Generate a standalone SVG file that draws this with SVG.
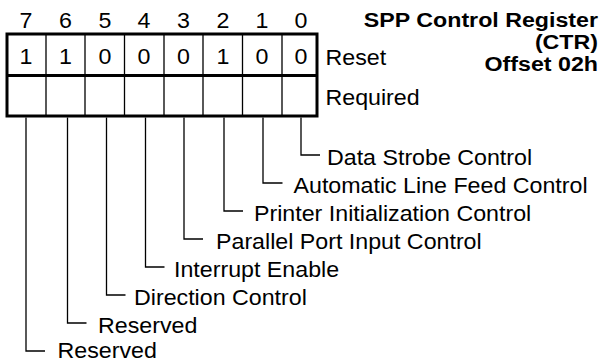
<svg xmlns="http://www.w3.org/2000/svg" width="603" height="363" viewBox="0 0 603 363">
<style>
text{font-family:"Liberation Sans",Arial,sans-serif;font-size:21.5px;fill:#000}
.c{text-anchor:middle}
.t{font-weight:bold;text-anchor:end;font-size:19.5px}
.thick{fill:none;stroke:#000;stroke-width:3}
.thin{stroke:#000;stroke-width:1.3;fill:none}
</style>
<rect width="603" height="363" fill="#fff"/>
<g id="register">
<g class="c">
<text transform="translate(26 27.5) scale(1.08 1)">7</text>
<text transform="translate(65.5 27.5) scale(1.08 1)">6</text>
<text transform="translate(105 27.5) scale(1.08 1)">5</text>
<text transform="translate(144 27.5) scale(1.08 1)">4</text>
<text transform="translate(183.5 27.5) scale(1.08 1)">3</text>
<text transform="translate(223 27.5) scale(1.08 1)">2</text>
<text transform="translate(262 27.5) scale(1.08 1)">1</text>
<text transform="translate(301 27.5) scale(1.08 1)">0</text>
<text transform="translate(26 63.5) scale(1.08 1)">1</text>
<text transform="translate(65.5 63.5) scale(1.08 1)">1</text>
<text transform="translate(105 63.5) scale(1.08 1)">0</text>
<text transform="translate(144 63.5) scale(1.08 1)">0</text>
<text transform="translate(183.5 63.5) scale(1.08 1)">0</text>
<text transform="translate(223 63.5) scale(1.08 1)">1</text>
<text transform="translate(262 63.5) scale(1.08 1)">0</text>
<text transform="translate(301 63.5) scale(1.08 1)">0</text>
</g>
<path class="thin" d="M46 34V116M85 34V116M124.5 34V116M164 34V116M203 34V116M242.5 34V116M282 34V116"/>
<rect class="thick" x="7" y="34" width="310" height="82"/>
<line class="thick" x1="7" y1="75.5" x2="317" y2="75.5"/>
<text transform="translate(325.5 64.5) scale(1.08 1)">Reset</text>
<text transform="translate(325.5 104.5) scale(1.08 1)">Required</text>
</g>
<g id="title">
<text class="t" transform="translate(598 27) scale(1.19 1)">SPP Control Register</text>
<text class="t" transform="translate(598 49) scale(1.19 1)">(CTR)</text>
<text class="t" transform="translate(598 71) scale(1.19 1)">Offset 02h</text>
</g>
<g id="connectors" class="thin">
<path d="M301 117.5V155H320"/>
<path d="M263 117.5V183H282.5"/>
<path d="M224 117.5V211H243"/>
<path d="M184 117.5V239H203"/>
<path d="M145.5 117.5V267H164.5"/>
<path d="M106.5 117.5V295H125.5"/>
<path d="M67.5 117.5V323H86.5"/>
<path d="M26 117.5V351H45"/>
</g>
<g id="labels">
<text transform="translate(327 164.5) scale(1.08 1)">Data Strobe Control</text>
<text transform="translate(293.5 192.5) scale(1.08 1)">Automatic Line Feed Control</text>
<text transform="translate(254 220.5) scale(1.08 1)">Printer Initialization Control</text>
<text transform="translate(216 248.5) scale(1.08 1)">Parallel Port Input Control</text>
<text transform="translate(174 276.5) scale(1.08 1)">Interrupt Enable</text>
<text transform="translate(134 304.5) scale(1.08 1)">Direction Control</text>
<text transform="translate(98 332.5) scale(1.08 1)">Reserved</text>
<text transform="translate(57.5 358) scale(1.08 1)">Reserved</text>
</g>
</svg>
